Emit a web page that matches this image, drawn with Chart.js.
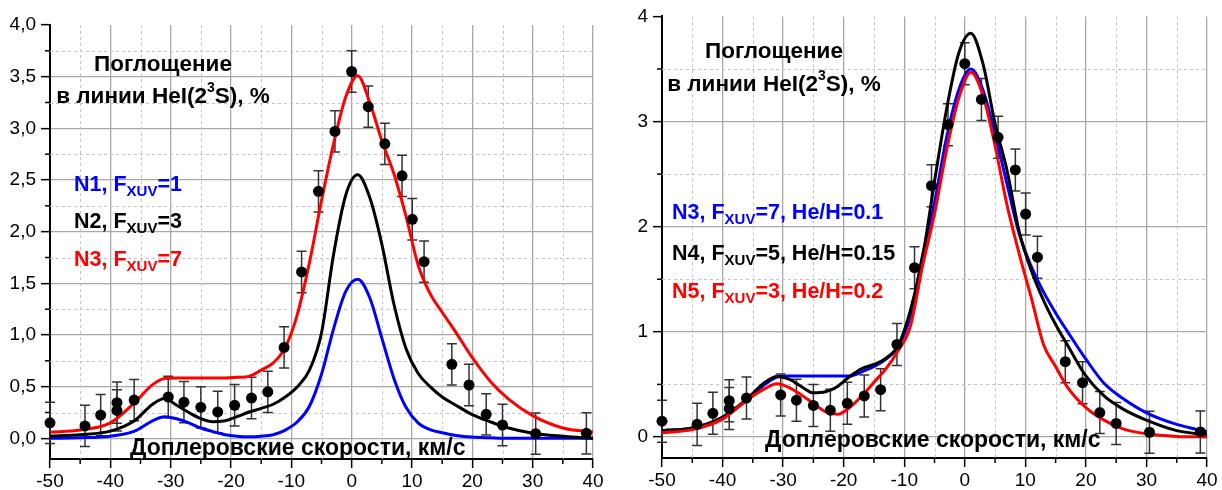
<!DOCTYPE html>
<html>
<head>
<meta charset="utf-8">
<script src="https://cdn.jsdelivr.net/npm/chart.js@4.4.1/dist/chart.umd.min.js"></script>
<style>
  html, body { margin: 0; padding: 0; background: #fff; }
  #wrap { position: relative; width: 1222px; height: 490px; }
  canvas { position: absolute; top: 0; }
</style>
</head>
<body>
<div id="wrap">
  <canvas id="left" width="610" height="490" style="left:0"></canvas>
  <canvas id="right" width="612" height="490" style="left:610px"></canvas>
</div>
<script>
// model grid, km/s
const vGrid = [-50, -45, -40, -36, -33, -31, -29, -27, -25, -23, -21, -19, -17, -15, -13, -11, -9, -7, -5, -3, -1, 1, 3, 5, 7, 9, 11, 13, 15, 17, 20, 23, 26, 30, 35, 40];

// left panel models
const leftN1 = [0.0, 0.005, 0.02, 0.07, 0.17, 0.21, 0.19, 0.15, 0.10, 0.065, 0.035, 0.02, 0.015, 0.02, 0.035, 0.08, 0.16, 0.31, 0.62, 1.06, 1.42, 1.54, 1.36, 0.97, 0.58, 0.30, 0.15, 0.085, 0.055, 0.03, 0.012, 0.005, 0, 0, 0, 0];
const leftN2 = [0.02, 0.035, 0.07, 0.17, 0.33, 0.385, 0.32, 0.25, 0.19, 0.16, 0.17, 0.21, 0.255, 0.29, 0.33, 0.40, 0.50, 0.66, 1.02, 1.78, 2.35, 2.55, 2.33, 1.88, 1.30, 0.87, 0.63, 0.50, 0.40, 0.33, 0.23, 0.16, 0.10, 0.05, 0.02, 0.0];
const leftN3 = [0.06, 0.08, 0.15, 0.345, 0.52, 0.58, 0.585, 0.585, 0.585, 0.585, 0.585, 0.59, 0.60, 0.66, 0.73, 0.88, 1.20, 1.70, 2.30, 2.85, 3.30, 3.51, 3.25, 2.88, 2.56, 2.15, 1.68, 1.40, 1.22, 1.05, 0.78, 0.55, 0.38, 0.22, 0.10, 0.06];

// right panel models
const rightN3 = [0.06, 0.085, 0.18, 0.35, 0.50, 0.57, 0.58, 0.58, 0.58, 0.58, 0.58, 0.58, 0.62, 0.67, 0.74, 0.86, 1.15, 1.72, 2.23, 2.85, 3.30, 3.50, 3.30, 2.88, 2.40, 1.93, 1.62, 1.38, 1.18, 1.00, 0.74, 0.51, 0.37, 0.23, 0.12, 0.05];
const rightN4 = [0.06, 0.085, 0.19, 0.36, 0.52, 0.575, 0.55, 0.48, 0.42, 0.43, 0.48, 0.575, 0.65, 0.69, 0.75, 0.87, 1.20, 1.70, 2.43, 3.12, 3.65, 3.84, 3.55, 2.98, 2.53, 1.95, 1.58, 1.30, 1.07, 0.87, 0.58, 0.39, 0.27, 0.16, 0.06, 0.02];
const rightN5 = [0.04, 0.07, 0.17, 0.35, 0.46, 0.505, 0.47, 0.40, 0.32, 0.24, 0.215, 0.28, 0.39, 0.52, 0.65, 0.82, 1.05, 1.62, 2.12, 2.73, 3.22, 3.47, 3.25, 2.77, 2.20, 1.74, 1.32, 0.88, 0.67, 0.47, 0.28, 0.16, 0.08, 0.03, 0.005, 0];

// observations
const obsV   = [-50, -44.2, -41.6, -38.9, -38.9, -36.05, -30.4, -27.8, -25.0, -22.2, -19.4, -16.6, -13.9, -11.2, -8.3, -5.5, -2.77, 0, 2.75, 5.5, 8.35, 10.05, 12.0, 16.6, 19.45, 22.3, 25.0, 30.5, 38.9];
const obsAbs = [0.15, 0.12, 0.225, 0.345, 0.27, 0.37, 0.40, 0.35, 0.30, 0.255, 0.32, 0.39, 0.45, 0.88, 1.61, 2.39, 2.97, 3.55, 3.21, 2.85, 2.54, 2.12, 1.71, 0.716, 0.516, 0.232, 0.129, 0.045, 0.048];
const obsErr = [0.2, 0.2, 0.2, 0.2, 0.2, 0.2, 0.2, 0.2, 0.2, 0.2, 0.2, 0.2, 0.2, 0.2, 0.2, 0.2, 0.2, 0.2, 0.2, 0.2, 0.2, 0.2, 0.2, 0.2, 0.2, 0.2, 0.2, 0.2, 0.2];

// ticks
const xTicks = [-50, -40, -30, -20, -10, 0, 10, 20, 30, 40];
const xMinor = [-45, -35, -25, -15, -5, 5, 15, 25, 35];
const leftYTicks = [0, 0.5, 1, 1.5, 2, 2.5, 3, 3.5, 4];
const leftYLabels = ['0,0', '0,5', '1,0', '1,5', '2,0', '2,5', '3,0', '3,5', '4,0'];
const leftYMinor = [0.25, 0.75, 1.25, 1.75, 2.25, 2.75, 3.25, 3.75];
const rightYTicks = [0, 1, 2, 3, 4];
const rightYLabels = ['0', '1', '2', '3', '4'];
const rightYMinor = [0.5, 1.5, 2.5, 3.5];

const FONT = '"Liberation Sans", Arial, sans-serif';
const BLUE = '#0000ff', RED = '#ff0000', BLACK = '#000000';

const pts = (xs, ys) => xs.map((x, i) => ({ x: x, y: ys[i] }));

function curve(data, color) {
  return {
    data: pts(vGrid, data),
    showLine: true,
    borderColor: color,
    borderWidth: 3,
    pointRadius: 0,
    cubicInterpolationMode: 'monotone',
    fill: false
  };
}

// dashed minor grid, minor ticks and error bars
const extras = {
  id: 'extras',
  beforeDatasetsDraw(chart, args, opts) {
    const ctx = chart.ctx, a = chart.chartArea;
    const xs = chart.scales.x, ys = chart.scales.y;
    ctx.save();
    ctx.strokeStyle = '#c4c4c4';
    ctx.lineWidth = 1;
    ctx.setLineDash([3, 3]);
    xMinor.forEach(v => {
      const px = Math.round(xs.getPixelForValue(v)) + 0.5;
      ctx.beginPath(); ctx.moveTo(px, a.top); ctx.lineTo(px, a.bottom); ctx.stroke();
    });
    opts.yMinor.forEach(v => {
      const py = Math.round(ys.getPixelForValue(v)) + 0.5;
      ctx.beginPath(); ctx.moveTo(a.left, py); ctx.lineTo(a.right, py); ctx.stroke();
    });
    ctx.setLineDash([]);
    ctx.strokeStyle = '#000';
    ctx.lineWidth = 1.5;
    xMinor.forEach(v => {
      const px = xs.getPixelForValue(v);
      ctx.beginPath(); ctx.moveTo(px, a.bottom); ctx.lineTo(px, a.bottom + 5); ctx.stroke();
    });
    opts.yMinor.forEach(v => {
      const py = ys.getPixelForValue(v);
      ctx.beginPath(); ctx.moveTo(a.left - 5, py); ctx.lineTo(a.left, py); ctx.stroke();
    });
    // error bars
    ctx.strokeStyle = '#333';
    ctx.lineWidth = 1.5;
    obsV.forEach((v, i) => {
      const px = xs.getPixelForValue(v);
      const y1 = ys.getPixelForValue(obsAbs[i] + obsErr[i]);
      const y2 = ys.getPixelForValue(obsAbs[i] - obsErr[i]);
      ctx.beginPath();
      ctx.moveTo(px, y1); ctx.lineTo(px, y2);
      ctx.moveTo(px - 5, y1); ctx.lineTo(px + 5, y1);
      ctx.moveTo(px - 5, y2); ctx.lineTo(px + 5, y2);
      ctx.stroke();
    });
    ctx.restore();
  },
  afterDraw(chart, args, opts) {
    const ctx = chart.ctx;
    ctx.save();
    ctx.textBaseline = 'middle';
    opts.texts.forEach(t => drawRuns(ctx, t));
    ctx.restore();
  }
};

function drawRuns(ctx, t) {
  const size = t.size;
  const fontFor = r => 'bold ' + (r.sub ? Math.round(size * 0.7) : r.sup ? Math.round(size * 0.6) : size) + 'px ' + FONT;
  let total = 0;
  t.runs.forEach(r => { ctx.font = fontFor(r); total += ctx.measureText(r.s).width; });
  let cx = t.align === 'center' ? t.x - total / 2 : t.x;
  ctx.fillStyle = t.color;
  ctx.textAlign = 'left';
  t.runs.forEach(r => {
    ctx.font = fontFor(r);
    const dy = r.sub ? size * 0.32 : r.sup ? -size * 0.38 : 0;
    ctx.fillText(r.s, cx, t.y + dy);
    cx += ctx.measureText(r.s).width;
  });
}

const titleRuns1 = [{ s: 'Поглощение' }];
const titleRuns2 = [{ s: 'в линии HeI(2' }, { s: '3', sup: true }, { s: 'S), %' }];
const axisRuns = [{ s: 'Доплеровские скорости, км/с' }];
const fx = (pre, post) => [{ s: pre + 'F' }, { s: 'XUV', sub: true }, { s: post }];

function options(cfg) {
  return {
    responsive: false,
    animation: false,
    layout: { padding: { top: cfg.top, right: cfg.right, left: 0, bottom: 0 } },
    plugins: {
      legend: { display: false },
      tooltip: { enabled: false },
      extras: { yMinor: cfg.yMinor, texts: cfg.texts }
    },
    scales: {
      x: {
        type: 'linear', min: -50, max: 40,
        afterBuildTicks: s => { s.ticks = xTicks.map(v => ({ value: v })); },
        afterFit: s => { s.height = cfg.xH; },
        ticks: {
          autoSkip: false, maxRotation: 0, padding: 2, color: '#000',
          font: { family: FONT, size: 19 },
          callback: (v, i) => String(xTicks[i])
        },
        grid: { color: '#a8a8a8', lineWidth: 1.3, tickColor: '#000', tickLength: 9, tickWidth: 1.5 },
        border: { color: '#000', width: 2 }
      },
      y: {
        type: 'linear', min: -0.2, max: 4,
        afterBuildTicks: s => { s.ticks = cfg.yTicks.map(v => ({ value: v })); },
        afterFit: s => { s.width = cfg.yW; },
        ticks: {
          padding: 5, color: '#000',
          font: { family: FONT, size: 19 },
          callback: (v, i) => cfg.yLabels[i]
        },
        grid: {
          color: c => (c.tick && c.tick.value === 4 ? 'rgba(0,0,0,0)' : '#a8a8a8'),
          lineWidth: 1.3, tickColor: '#000', tickLength: 9, tickWidth: 1.5
        },
        border: { color: '#000', width: 2 }
      }
    }
  };
}

const obsSet = () => ({
  data: pts(obsV, obsAbs),
  showLine: false,
  pointRadius: 5.5,
  pointBackgroundColor: '#000',
  pointBorderWidth: 0,
  clip: false
});

new Chart(document.getElementById('left'), {
  type: 'scatter',
  data: { datasets: [obsSet(), curve(leftN3, RED), curve(leftN2, BLACK), curve(leftN1, BLUE)] },
  options: options({
    top: 25, right: 17, xH: 31, yW: 50,
    yTicks: leftYTicks, yLabels: leftYLabels, yMinor: leftYMinor,
    texts: [
      { x: 163, y: 65, size: 22.5, color: BLACK, align: 'center', runs: titleRuns1 },
      { x: 163, y: 97, size: 22.5, color: BLACK, align: 'center', runs: titleRuns2 },
      { x: 74, y: 185, size: 21.5, color: BLUE, runs: fx('N1, ', '=1') },
      { x: 74, y: 222, size: 21.5, color: BLACK, runs: fx('N2, ', '=3') },
      { x: 74, y: 260, size: 21.5, color: RED, runs: fx('N3, ', '=7') },
      { x: 130, y: 449, size: 23, color: BLACK, runs: axisRuns }
    ]
  }),
  plugins: [extras]
});

new Chart(document.getElementById('right'), {
  type: 'scatter',
  data: { datasets: [obsSet(), curve(rightN5, RED), curve(rightN4, BLACK), curve(rightN3, BLUE)] },
  options: options({
    top: 16, right: 15, xH: 32, yW: 52,
    yTicks: rightYTicks, yLabels: rightYLabels, yMinor: rightYMinor,
    texts: [
      { x: 164, y: 52, size: 22.5, color: BLACK, align: 'center', runs: titleRuns1 },
      { x: 164, y: 85, size: 22.5, color: BLACK, align: 'center', runs: titleRuns2 },
      { x: 62, y: 213, size: 21.5, color: BLUE, runs: fx('N3, ', '=7, He/H=0.1') },
      { x: 62, y: 254, size: 21.5, color: BLACK, runs: fx('N4, ', '=5, He/H=0.15') },
      { x: 62, y: 292, size: 21.5, color: RED, runs: fx('N5, ', '=3, He/H=0.2') },
      { x: 155, y: 441, size: 23, color: BLACK, runs: axisRuns }
    ]
  }),
  plugins: [extras]
});
</script>
</body>
</html>
